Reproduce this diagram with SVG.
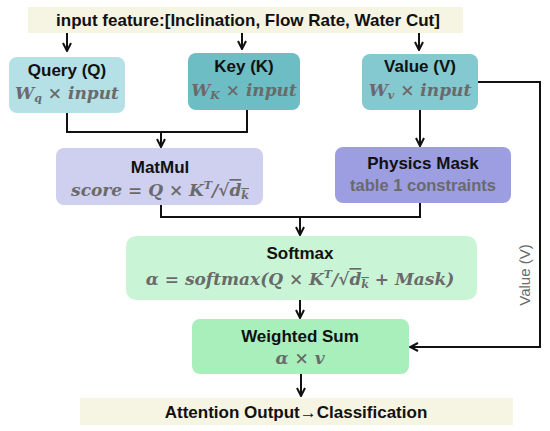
<svg xmlns="http://www.w3.org/2000/svg" width="550" height="431" viewBox="0 0 550 431">
<style>
.title{font-family:"Liberation Sans",Arial,sans-serif;font-weight:bold;font-size:17px;fill:#111;text-anchor:middle}
.math{font-family:"DejaVu Serif","Liberation Serif",serif;font-weight:bold;font-style:italic;font-size:17px;fill:#6a6a6a;text-anchor:middle}
.sub{font-size:11px}
.grey{font-family:"Liberation Sans",Arial,sans-serif;font-weight:bold;font-size:16.5px;fill:#6a6a6a;text-anchor:middle}
.side{font-family:"Liberation Sans",Arial,sans-serif;font-size:15px;fill:#6a6a6a;text-anchor:middle}
.conn{fill:none;stroke:#111;stroke-width:2}
.banner{fill:#f6f4e2}
</style>
<defs>
<marker id="ah" viewBox="0 0 10 10" refX="9" refY="5" markerWidth="10" markerHeight="10" markerUnits="userSpaceOnUse" orient="auto">
<path d="M1,1 L9,5 L1,9" fill="none" stroke="#111" stroke-width="2"/>
</marker>
</defs>
<rect width="550" height="431" fill="#fff"/>

<g id="input">
<rect class="banner" x="28" y="7" width="435" height="26"/>
<text class="title" x="248" y="26">input feature:[Inclination, Flow Rate, Water Cut]</text>
</g>

<g id="query">
<rect x="9" y="57" width="116" height="56" rx="8" fill="#b4e0e6"/>
<text class="title" x="67" y="76">Query (Q)</text>
<text class="math" x="67" y="99">W<tspan class="sub" dy="3">q</tspan><tspan dy="-3"> × input</tspan></text>
</g>

<g id="key">
<rect x="188" y="53" width="112" height="57" rx="8" fill="#6dbdc5"/>
<text class="title" x="244" y="72">Key (K)</text>
<text class="math" x="244" y="96">W<tspan class="sub" dy="3">K</tspan><tspan dy="-3"> × input</tspan></text>
</g>

<g id="value">
<rect x="362" y="54" width="116" height="56" rx="8" fill="#84c8d0"/>
<text class="title" x="420" y="72">Value (V)</text>
<text class="math" x="420" y="96">W<tspan class="sub" dy="3">v</tspan><tspan dy="-3"> × input</tspan></text>
</g>

<g id="matmul">
<rect x="56" y="148" width="207" height="57" rx="8" fill="#cfcff0"/>
<text class="title" x="160" y="173">MatMul</text>
<text class="math" x="160" y="196">score = Q × K<tspan class="sub" dy="-7">T</tspan><tspan dy="7">/√</tspan><tspan text-decoration="overline">d<tspan class="sub" dy="3">k</tspan></tspan></text>
</g>

<g id="mask">
<rect x="335" y="147" width="176" height="56" rx="8" fill="#9d9de2"/>
<text class="title" x="423" y="169">Physics Mask</text>
<text class="grey" x="423" y="191">table 1 constraints</text>
</g>

<g id="softmax">
<rect x="126" y="236" width="351" height="64" rx="10" fill="#c9f5d6"/>
<text class="title" x="300" y="259">Softmax</text>
<text class="math" x="300" y="285">α = softmax(Q × K<tspan class="sub" dy="-7">T</tspan><tspan dy="7">/√</tspan><tspan text-decoration="overline">d<tspan class="sub" dy="3">k</tspan></tspan><tspan dy="-3"> + Mask)</tspan></text>
</g>

<g id="wsum">
<rect x="192" y="319" width="217" height="55" rx="8" fill="#a9efbb"/>
<text class="title" x="300" y="342">Weighted Sum</text>
<text class="math" x="300" y="364">α × v</text>
</g>

<g id="output">
<rect class="banner" x="80" y="398" width="433" height="27"/>
<text class="title" x="296" y="418">Attention Output→Classification</text>
</g>

<g id="connectors">
<path class="conn" d="M67,33 V51" marker-end="url(#ah)"/>
<path class="conn" d="M242,33 V49" marker-end="url(#ah)"/>
<path class="conn" d="M419,33 V50" marker-end="url(#ah)"/>
<path class="conn" d="M67,113 V132 H247 V110"/>
<path class="conn" d="M161,132 V147" marker-end="url(#ah)"/>
<path class="conn" d="M420,110 V146" marker-end="url(#ah)"/>
<path class="conn" d="M161,205 V217 H420 V203"/>
<path class="conn" d="M300,217 V235" marker-end="url(#ah)"/>
<path class="conn" d="M300,300 V318" marker-end="url(#ah)"/>
<path class="conn" d="M301,374 V396" marker-end="url(#ah)"/>
<path class="conn" d="M478,82 H540 V347 H410" marker-end="url(#ah)"/>
<text class="side" transform="translate(530,275) rotate(-90)">Value (V)</text>
</g>
</svg>
